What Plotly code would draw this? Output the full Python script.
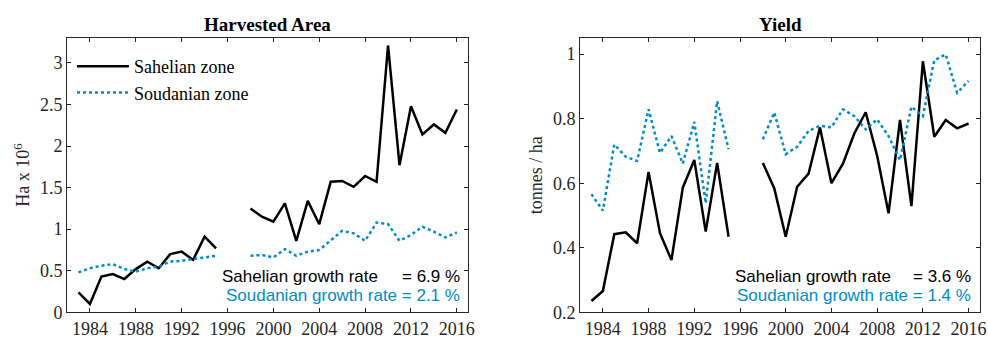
import plotly.graph_objects as go

# Years covered by the survey (1996-1997 missing)
years = list(range(1983, 1996)) + [1996, 1997] + list(range(1998, 2017))

# Harvested area (million ha)
area_sahel = [0.24, 0.10, 0.43, 0.46, 0.40, 0.52, 0.61, 0.53, 0.70, 0.73, 0.63, 0.91, 0.77,
              None, None,
              1.25, 1.15, 1.09, 1.31, 0.86, 1.34, 1.06, 1.57, 1.58, 1.51, 1.64, 1.57,
              3.21, 1.77, 2.48, 2.14, 2.26, 2.16, 2.44]
area_soudan = [0.48, 0.53, 0.56, 0.58, 0.52, 0.49, 0.53, 0.55, 0.61, 0.62, 0.64, 0.66, 0.68,
               None, None,
               0.68, 0.69, 0.66, 0.76, 0.68, 0.73, 0.75, 0.87, 0.98, 0.95, 0.86, 1.08,
               1.06, 0.86, 0.93, 1.03, 0.97, 0.90, 0.96]

# Yield (tonnes / ha)
yield_sahel = [0.235, 0.266, 0.442, 0.448, 0.414, 0.635, 0.445, 0.362, 0.587, 0.672, 0.450, 0.663, 0.434,
               None, None,
               0.663, 0.584, 0.434, 0.589, 0.630, 0.773, 0.600, 0.660, 0.754, 0.820, 0.685, 0.507,
               0.796, 0.529, 0.978, 0.744, 0.796, 0.770, 0.785]
yield_soudan = [0.566, 0.515, 0.720, 0.682, 0.669, 0.829, 0.694, 0.746, 0.661, 0.790, 0.538, 0.854, 0.705,
                None, None,
                0.736, 0.819, 0.690, 0.713, 0.762, 0.778, 0.773, 0.829, 0.808, 0.767, 0.798, 0.746,
                0.672, 0.837, 0.808, 0.981, 0.999, 0.880, 0.917]

growth_area = {"Sahelian": "6.9 %", "Soudanian": "2.1 %"}
growth_yield = {"Sahelian": "3.6 %", "Soudanian": "1.4 %"}

BLACK = "#000000"
BLUE = "#008cc8"
AXC = "#262626"
SERIF = "Liberation Serif, Times New Roman, serif"
SANS = "Liberation Sans, Arial, sans-serif"

W, H = 988, 338

fig = go.Figure()

fig.add_trace(go.Scatter(x=years, y=area_sahel, mode="lines", name="Sahelian zone",
                         line=dict(color=BLACK, width=2.5), xaxis="x", yaxis="y"))
fig.add_trace(go.Scatter(x=years, y=area_soudan, mode="lines", name="Soudanian zone",
                         line=dict(color=BLUE, width=2.5, dash="dot"), xaxis="x", yaxis="y"))
fig.add_trace(go.Scatter(x=years, y=yield_sahel, mode="lines", showlegend=False,
                         line=dict(color=BLACK, width=2.5), xaxis="x2", yaxis="y2"))
fig.add_trace(go.Scatter(x=years, y=yield_soudan, mode="lines", showlegend=False,
                         line=dict(color=BLUE, width=2.5, dash="dot"), xaxis="x2", yaxis="y2"))

tickfont = dict(family=SERIF, size=18, color=AXC)
xcommon = dict(range=[1982, 2017], tick0=1984, dtick=4, ticks="inside", ticklen=4,
               tickcolor=AXC, showline=True, linecolor=AXC, linewidth=1, mirror="ticks",
               showgrid=False, zeroline=False, automargin=False, tickfont=tickfont)
ycommon = dict(ticks="inside", ticklen=4, tickcolor=AXC, showline=True, linecolor=AXC,
               linewidth=1, mirror="ticks", showgrid=False, zeroline=False,
               automargin=False, tickfont=tickfont)

ydom = [1 - 312.3 / H, 1 - 38 / H]
fig.update_layout(
    width=W, height=H,
    margin=dict(l=0, r=0, t=0, b=0, autoexpand=False),
    paper_bgcolor="white", plot_bgcolor="white",
    xaxis=dict(domain=[67 / W, 468.3 / W], anchor="y", **xcommon),
    yaxis=dict(domain=ydom, anchor="x", range=[0, 3.3], tick0=0, dtick=0.5,
               title=dict(text="Ha x 10<sup>6</sup>", font=dict(family=SERIF, size=18, color=AXC),
                          standoff=5),
               **ycommon),
    xaxis2=dict(domain=[580 / W, 980 / W], anchor="y2", **xcommon),
    yaxis2=dict(domain=ydom, anchor="x2", range=[0.2, 1.05], tick0=0.2, dtick=0.2,
                title=dict(text="tonnes / ha", font=dict(family=SERIF, size=18, color=AXC),
                           standoff=5),
                **ycommon),
    legend=dict(x=72 / W, y=1 - 48 / H, xanchor="left", yanchor="top",
                bgcolor="rgba(0,0,0,0)", itemwidth=52,
                font=dict(family=SERIF, size=18, color=BLACK), tracegroupgap=0),
    showlegend=True,
)

annotations = [
    dict(text="<b>Harvested Area</b>", x=0.5, xref="x domain", y=1 - 24 / H, yref="paper"),
    dict(text="<b>Yield</b>", x=0.5, xref="x2 domain", y=1 - 24 / H, yref="paper"),
]
for a in annotations:
    a.update(showarrow=False, xanchor="center", yanchor="middle",
             font=dict(family=SERIF, size=19, color=BLACK))

# Growth rate labels in the lower right corner of each panel
def growth_labels(x_start, x_end, rates):
    y1, y2 = 1 - 276 / H, 1 - 295 / H
    return [
        dict(text="Sahelian growth rate", x=x_start / W, y=y1, xanchor="left",
             font=dict(family=SANS, size=17, color=BLACK)),
        dict(text="= " + rates["Sahelian"], x=x_end / W, y=y1, xanchor="right",
             font=dict(family=SANS, size=17, color=BLACK)),
        dict(text="Soudanian growth rate = " + rates["Soudanian"], x=x_end / W, y=y2,
             xanchor="right", font=dict(family=SANS, size=17, color=BLUE)),
    ]

for a in growth_labels(220, 462, growth_area) + growth_labels(733, 973, growth_yield):
    a.update(showarrow=False, yanchor="middle", xref="paper", yref="paper")
    annotations.append(a)

fig.update_layout(annotations=annotations)

fig.write_html("out.html")
